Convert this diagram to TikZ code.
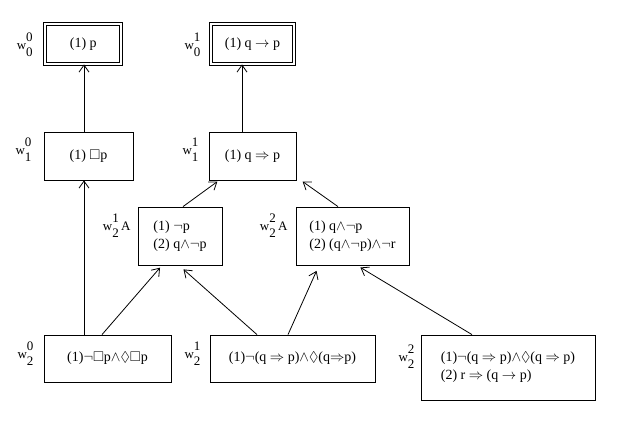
\documentclass[tikz,border=0pt]{standalone}
\usepackage{amssymb}
\usepackage{fontspec}
\setmainfont{Liberation Serif}
\usetikzlibrary{arrows.meta,positioning,calc}

% world name with stacked indices
\newcommand{\wname}[3]{w\makebox[0pt][l]{\raisebox{7.5pt}{#1}}\raisebox{-7pt}{#2}#3}

\begin{document}
\begin{tikzpicture}[
    x=1pt, y=-1pt,
    font=\fontsize{14}{18}\selectfont,
    world/.style={draw, line width=0.8pt, inner sep=0pt, align=left},
    final/.style={world, double, double distance=2.2pt},
    wlabel/.style={anchor=east, inner sep=0pt, font=\fontsize{13}{15}\selectfont},
    arr/.style={-{Straight Barb[length=7pt,width=10pt]}, line width=0.8pt},
  ]
  \useasboundingbox (0,0) rectangle (632,431);

  % worlds
  \node[final, minimum width=76, minimum height=40] (w00) at (83.3,44) {(1) p};
  \node[final, minimum width=83, minimum height=40] (w01) at (252.5,44) {(1) q $\rightarrow$ p};
  \node[world, minimum width=89, minimum height=48] (w10) at (88.5,156) {(1) $\Box$p};
  \node[world, minimum width=87, minimum height=48] (w11) at (252.5,156) {(1) q $\Rightarrow$ p};
  \node[world, minimum width=84, minimum height=58] (w21a) at (180,236) {(1) $\neg$p\\(2) q${\wedge}\neg$p};
  \node[world, minimum width=113, minimum height=58] (w22a) at (352.5,236) {(1) q${\wedge}\neg$p\\(2) (q${\wedge}\neg$p)${\wedge}\neg$r};
  \node[world, minimum width=127, minimum height=47] (w20) at (107.5,358.5) {(1)$\neg\Box$p${\wedge}\Diamond\Box$p};
  \node[world, minimum width=165, minimum height=47] (w21) at (292.5,358.5) {(1)$\neg$(q $\Rightarrow$ p)${\wedge}\Diamond$(q${\Rightarrow}$p)};
  \node[world, minimum width=174, minimum height=65] (w22) at (508,367.5) {(1)$\neg$(q $\Rightarrow$ p)${\wedge}\Diamond$(q $\Rightarrow$ p)\\(2) r $\Rightarrow$ (q $\rightarrow$ p)};

  % names
  \node[wlabel] (l00) at ([xshift=-12pt,yshift=-21pt]w00.north west) {\wname{0}{0}{}};
  \node[wlabel] (l01) at ([xshift=-10pt,yshift=-21pt]w01.north west) {\wname{1}{0}{}};
  \node[wlabel] (l10) at ([xshift=-12pt,yshift=-18pt]w10.north west) {\wname{0}{1}{}};
  \node[wlabel] (l11) at ([xshift=-10pt,yshift=-18pt]w11.north west) {\wname{1}{1}{}};
  \node[wlabel] (l21a) at ([xshift=-7pt,yshift=-19pt]w21a.north west) {\wname{1}{2}{\,A}};
  \node[wlabel] (l22a) at ([xshift=-8pt,yshift=-19pt]w22a.north west) {\wname{2}{2}{\,A}};
  \node[wlabel] (l20) at ([xshift=-10pt,yshift=-19pt]w20.north west) {\wname{0}{2}{}};
  \node[wlabel] (l21) at ([xshift=-9pt,yshift=-19pt]w21.north west) {\wname{1}{2}{}};
  \node[wlabel] (l22) at ([xshift=-6pt,yshift=-22pt]w22.north west) {\wname{2}{2}{}};

  % accessibility
  \draw[arr] ([xshift=-4.5pt]w10.north) -- ([xshift=-4.5pt]w10.north |- w00.south);
  \draw[arr] ([xshift=-10.5pt]w11.north) -- ([xshift=-10.5pt]w11.north |- w01.south);
  \draw[arr] ([xshift=-23.5pt]w20.north) -- ([xshift=-23.5pt]w20.north |- w10.south);
  \draw[arr, shorten >=2pt] ([xshift=3pt]w21a.north) -- ([xshift=-33.5pt]w11.south);
  \draw[arr, shorten >=2pt] ([xshift=-14.5pt]w22a.north) -- ([xshift=48.5pt]w11.south);
  \draw[arr, shorten >=3pt] ([xshift=-5.5pt]w20.north) -- ([xshift=-18pt]w21a.south);
  \draw[arr, shorten >=6pt] ([xshift=-35.5pt]w21.north) -- ([xshift=-1pt]w21a.south);
  \draw[arr, shorten >=6pt] ([xshift=-4.5pt]w21.north) -- ([xshift=-33.5pt]w22a.south);
  \draw[arr, shorten >=4pt] ([xshift=-36pt]w22.north) -- ([xshift=4.5pt]w22a.south);
\end{tikzpicture}
\end{document}
